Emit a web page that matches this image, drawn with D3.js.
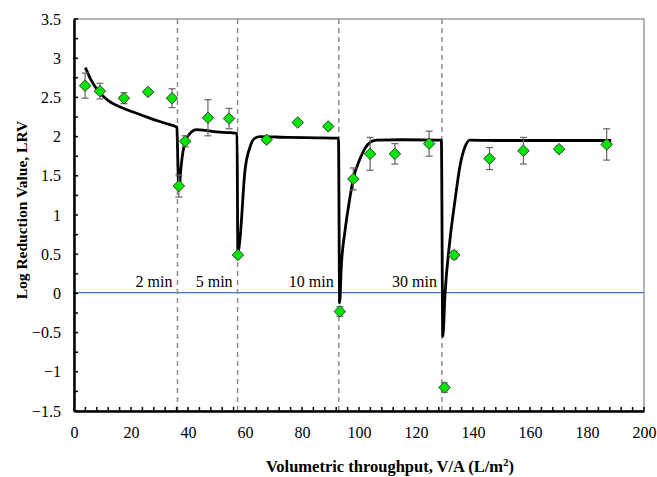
<!DOCTYPE html>
<html>
<head>
<meta charset="utf-8">
<script src="https://cdn.jsdelivr.net/npm/d3@7"></script>
</head>
<body style="margin:0; background:#fff">
<div id="chart"></div>
<script>
// measured points (x = V/A, y = LRV, err = +/-)
let obsX = [3.9, 9.1, 17.5, 26, 34.4, 36.8, 39, 47, 54.4, 57.5, 67.6, 78.5, 89.2, 93.3, 98, 103.9, 112.6, 124.6, 130, 133.4, 145.8, 157.7, 170.2, 186.9]
let obsY = [2.65, 2.58, 2.49, 2.57, 2.49, 1.37, 1.94, 2.24, 2.23, 0.49, 1.96, 2.18, 2.13, -0.23, 1.46, 1.78, 1.78, 1.91, -1.2, 0.49, 1.72, 1.82, 1.84, 1.90]
let obsErr = [0.16, 0.1, 0.07, 0.03, 0.12, 0.14, 0.07, 0.23, 0.13, 0.03, 0.03, 0.03, 0.03, 0.06, 0.14, 0.21, 0.13, 0.16, 0.06, 0.05, 0.14, 0.17, 0.04, 0.2]

// model curve
let modelX = [4, 6, 9, 12, 16, 21, 27, 32, 36.1, 36.3, 36.6, 36.9, 37.4, 38.2, 39, 40.7, 43, 46, 50, 55, 57.2,
              57.5, 58.2, 60, 61.7, 63.5, 65.3, 75, 85, 92.8,
              93.2, 93.8, 95.1, 96.5, 98, 100.4, 102.1, 104, 106.2, 115, 128.9,
              129.4, 130.2, 131.9, 133.7, 135.4, 137.2, 138.9, 150, 170, 188.5]
let modelY = [2.88, 2.72, 2.56, 2.46, 2.38, 2.31, 2.23, 2.17, 2.12, 1.9, 1.45, 1.33, 1.55, 1.8, 1.93, 2.04, 2.09, 2.08, 2.06, 2.05, 2.04,
              0.5, 0.68, 1.57, 1.86, 1.98, 2.0, 1.99, 1.985, 1.98,
              -0.12, 0.35, 0.8, 1.15, 1.46, 1.72, 1.85, 1.93, 1.956, 1.96, 1.955,
              -0.55, 0.0, 0.68, 1.19, 1.62, 1.87, 1.956, 1.95, 1.95, 1.95]

// stage changes (dashed lines) and their labels
let stageX = [36.3, 57.4, 92.9, 129.1]
let stageLabels = ["2 min", "5 min", "10 min", "30 min"]

let xTicks = [0, 20, 40, 60, 80, 100, 120, 140, 160, 180, 200]
let yTicks = [-1.5, -1, -0.5, 0, 0.5, 1, 1.5, 2, 2.5, 3, 3.5]

let width = 657, height = 477
let margin = {top: 19, right: 13, bottom: 66, left: 74}
let serif = "'Liberation Serif', 'Times New Roman', serif"

let svg = d3.select("#chart").append("svg")
            .attr("width", width)
            .attr("height", height)

let xScale = d3.scaleLinear().domain([0, 200]).range([margin.left, width - margin.right])
let yScale = d3.scaleLinear().domain([-1.5, 3.5]).range([height - margin.bottom, margin.top])

// frame (top and right thin)
svg.append("rect")
   .attr("x", margin.left).attr("y", margin.top)
   .attr("width", width - margin.left - margin.right)
   .attr("height", height - margin.top - margin.bottom)
   .attr("fill", "none").attr("stroke", "#6b6b6b").attr("stroke-width", 1)

// zero line
svg.append("line")
   .attr("x1", xScale(0)).attr("x2", xScale(200))
   .attr("y1", yScale(0.01)).attr("y2", yScale(0.01))
   .attr("stroke", "#4472C4").attr("stroke-width", 1.2)

// dashed stage lines
svg.append("g").selectAll("line").data(stageX).enter().append("line")
   .attr("x1", d => xScale(d)).attr("x2", d => xScale(d))
   .attr("y1", yScale(3.5)).attr("y2", yScale(-1.5))
   .attr("stroke", "#8c8c8c").attr("stroke-width", 1.5)
   .attr("stroke-dasharray", "5,4")

svg.append("g").selectAll("text").data(stageLabels).enter().append("text")
   .attr("x", (d, i) => xScale(stageX[i]) - 5)
   .attr("y", yScale(0) - 6)
   .attr("text-anchor", "end")
   .style("font-family", serif)
   .attr("font-size", 16)
   .text(d => d)

// model curve
let line = d3.line()
             .x((d, i) => xScale(modelX[i]))
             .y(d => yScale(d))
             .curve(d3.curveMonotoneX)
svg.append("path")
   .attr("d", line(modelY))
   .attr("fill", "none").attr("stroke", "#000").attr("stroke-width", 2.8)
   .attr("stroke-linejoin", "round")

// error bars
let errG = svg.append("g").attr("stroke", "#666").attr("stroke-width", 1.2)
obsX.forEach(function(x, i){
  let top = yScale(obsY[i] + obsErr[i]), bot = yScale(obsY[i] - obsErr[i])
  errG.append("line").attr("x1", xScale(x)).attr("x2", xScale(x)).attr("y1", top).attr("y2", bot)
  errG.append("line").attr("x1", xScale(x) - 3.5).attr("x2", xScale(x) + 3.5).attr("y1", top).attr("y2", top)
  errG.append("line").attr("x1", xScale(x) - 3.5).attr("x2", xScale(x) + 3.5).attr("y1", bot).attr("y2", bot)
})

// diamonds
let sym = d3.symbol().type(d3.symbolDiamond2).size(85)
svg.append("g").selectAll("path").data(obsY).enter().append("path")
   .attr("d", sym)
   .attr("transform", (d, i) => "translate(" + xScale(obsX[i]) + "," + yScale(d) + ")")
   .attr("fill", "#00e600").attr("stroke", "#404040").attr("stroke-width", 1)

// axes
let xAxis = d3.axisBottom(xScale).tickValues(xTicks).tickSize(0).tickPadding(16).tickFormat(d3.format("d"))
let yAxis = d3.axisLeft(yScale).tickValues(yTicks).tickSize(0).tickPadding(13).tickFormat(d => d3.format("")(d))

let gx = svg.append("g").attr("transform", "translate(0," + yScale(-1.5) + ")").call(xAxis)
let gy = svg.append("g").attr("transform", "translate(" + xScale(0) + ",0)").call(yAxis)
;[gx, gy].forEach(function(g){
  g.select(".domain").attr("stroke", "#000").attr("stroke-width", 2.5)
  g.selectAll("text").style("font-family", serif).attr("font-size", 16).attr("fill", "#000")
})

// inner ticks every 4 on x, every 0.25 on y
let xMinor = d3.range(0, 201, 4)
svg.append("g").selectAll("line").data(xMinor).enter().append("line")
   .attr("x1", d => xScale(d)).attr("x2", d => xScale(d))
   .attr("y1", yScale(-1.5)).attr("y2", yScale(-1.5) - 4)
   .attr("stroke", "#000").attr("stroke-width", 1.5)
let yMinor = d3.range(-1.5, 3.51, 0.25)
svg.append("g").selectAll("line").data(yMinor).enter().append("line")
   .attr("x1", xScale(0)).attr("x2", xScale(0) + 4)
   .attr("y1", d => yScale(d)).attr("y2", d => yScale(d))
   .attr("stroke", "#000").attr("stroke-width", 1.5)

// titles
svg.append("text")
   .attr("x", 390)
   .attr("y", 472)
   .attr("text-anchor", "middle")
   .style("font-family", serif)
   .attr("font-size", 16.5).attr("font-weight", "bold")
   .html("Volumetric throughput, V/A (L/m<tspan baseline-shift='super' font-size='11'>2</tspan>)")

svg.append("text")
   .attr("transform", "translate(27,210) rotate(-90)")
   .attr("text-anchor", "middle")
   .style("font-family", serif)
   .attr("font-size", 15.5).attr("font-weight", "bold")
   .text("Log Reduction Value, LRV")
</script>
</body>
</html>
